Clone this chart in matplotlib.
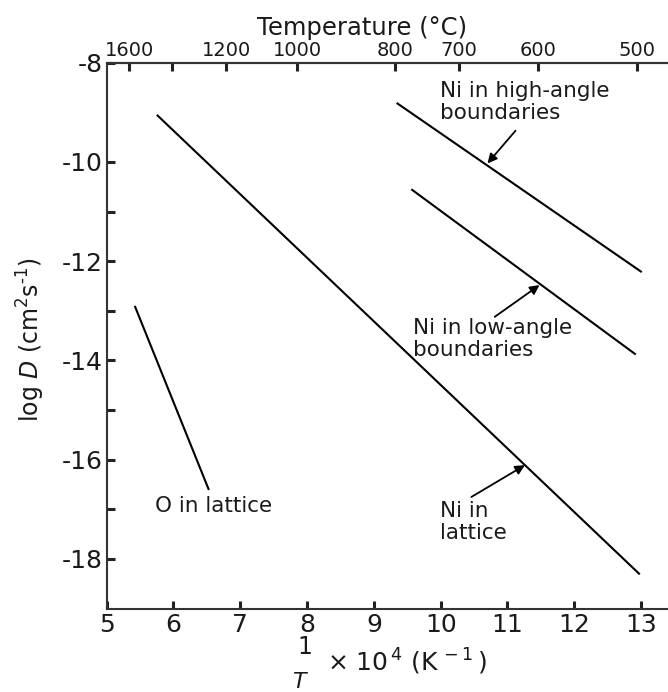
import numpy as np
import matplotlib.pyplot as plt

plt.rcParams['font.family'] = 'DejaVu Sans'
plt.rcParams['axes.unicode_minus'] = False
plt.rcParams['mathtext.fontset'] = 'dejavusans'

# end points of each Arrhenius line: 1e4/T (K^-1) and log D (cm^2 s^-1)
ni_lattice_x = [5.75, 12.98]
ni_lattice_logd = [-9.05, -18.31]
ni_high_x = [9.34, 13.01]
ni_high_logd = [-8.81, -12.22]
ni_low_x = [9.56, 12.92]
ni_low_logd = [-10.55, -13.88]
o_lattice_x = [5.42, 6.53]
o_lattice_logd = [-12.9, -16.61]

# top scale in degrees C
temps_c = np.array([1600, 1400, 1200, 1000, 800, 700, 600, 500])
temp_labels = ['1600', '', '1200', '1000', '800', '700', '600', '500']

txt = '#1a1a1a'
W, H = 668, 692
fig = plt.figure(figsize=(W / 100, H / 100), dpi=100)
left, right, top, bottom = 106.7, 668, 62.7, 608.6
ax = fig.add_axes([left / W, 1 - bottom / H, (right - left) / W, (bottom - top) / H])

for x, y in [(ni_lattice_x, ni_lattice_logd), (ni_high_x, ni_high_logd),
             (ni_low_x, ni_low_logd), (o_lattice_x, o_lattice_logd)]:
    ax.plot(x, y, color='black', lw=1.5, solid_capstyle='butt')

ax.set_xlim(5, 5 + (right - left) / 66.8)
ax.set_ylim(-19, -8)
ax.set_xticks(range(5, 14))
ax.set_yticks([-8, -10, -12, -14, -16, -18])
ax.set_yticks([-11, -13, -15, -17], minor=True)
ax.tick_params(which='both', direction='in', length=6, width=2.2, color='#222222',
               labelcolor=txt, labelsize=18, pad=3)
ax.spines['right'].set_visible(False)
for s in ['left', 'bottom', 'top']:
    ax.spines[s].set_linewidth(1.5)
    ax.spines[s].set_color('#333333')

ax.set_ylabel(r'log $D$ (cm$^2$s$^{\text{-}1}$)', fontsize=17, color=txt)
ax.yaxis.set_label_coords((47 - left) / (right - left), (bottom - 340) / (bottom - top))

ax2 = ax.twiny()
ax2.set_xlim(ax.get_xlim())
ax2.set_xticks(1e4 / (temps_c + 273.15))
ax2.set_xticklabels(temp_labels)
ax2.tick_params(direction='in', length=6, width=2.2, color='#222222',
                labelcolor=txt, labelsize=14, pad=2)
for s in ['left', 'bottom', 'right']:
    ax2.spines[s].set_visible(False)
ax2.spines['top'].set_linewidth(1.5)
ax2.spines['top'].set_color('#333333')
ax2.set_xlabel('Temperature (°C)', fontsize=17.5, color=txt)
ax2.xaxis.set_label_coords((362 - left) / (right - left), 1 + (top - 35) / (bottom - top))

# bottom axis label written as 1/T stacked over the factor
fig.text(305 / W, 1 - 647 / H, '1', fontsize=17, color=txt, ha='center', va='center')
fig.text(299 / W, 0.5 / H, 'T', fontsize=16, color=txt, ha='center', va='bottom',
         style='italic')
fig.text(327 / W, 1 - 671 / H, r'$\times$ 10$^{\,4}$ (K$^{\,-1}\,$)', fontsize=18,
         color=txt, ha='left', va='baseline')

# va='baseline' puts the last line of each label on the given log D
lab = dict(fontsize=15.5, color=txt, ha='left', va='baseline', linespacing=1.13)
ax.text(9.99, -9.14, 'Ni in high-angle\nboundaries', **lab)
ax.text(9.58, -13.91, 'Ni in low-angle\nboundaries', **lab)
ax.text(5.72, -17.05, 'O in lattice', **lab)
ax.text(9.99, -17.59, 'Ni in\nlattice', **lab)

arrow = dict(arrowstyle='-|>', color='black', lw=1.3, mutation_scale=14,
             shrinkA=0, shrinkB=0)
ax.annotate('', xy=(10.70, -10.03), xytext=(11.12, -9.37), arrowprops=arrow)
ax.annotate('', xy=(11.48, -12.48), xytext=(10.81, -13.12), arrowprops=arrow)
ax.annotate('', xy=(11.26, -16.11), xytext=(10.46, -16.75), arrowprops=arrow)

fig.savefig('out.png', dpi=100)
